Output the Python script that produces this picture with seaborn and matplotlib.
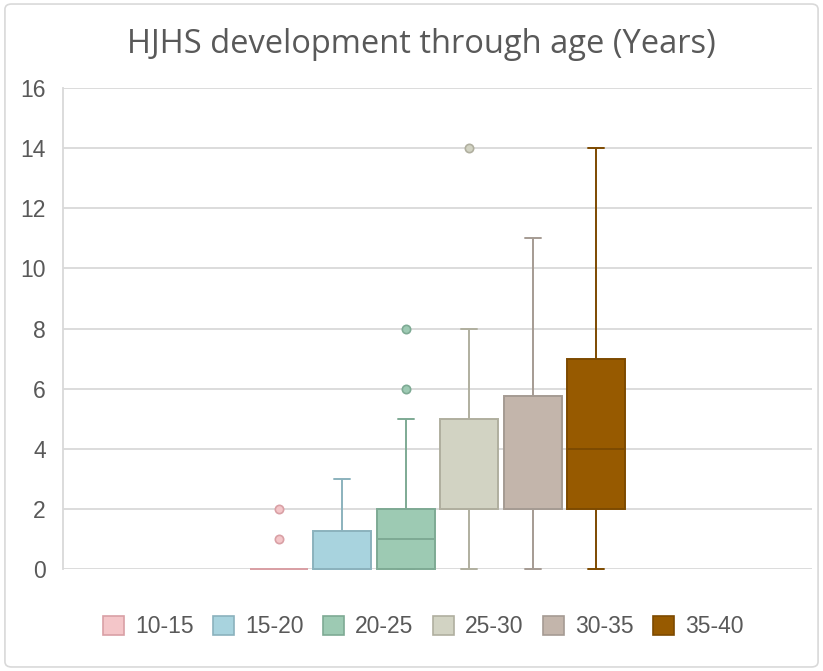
import numpy as np
import pandas as pd
import seaborn as sns
import matplotlib.pyplot as plt
from matplotlib.patches import Patch, FancyBboxPatch

# HJHS scores per age group
age_groups = ["10-15", "15-20", "20-25", "25-30", "30-35", "35-40"]
scores_10_15 = [0, 0, 0, 0, 0, 0, 0, 0, 0, 0, 1, 2]
scores_15_20 = [0, 0, 0, 0, 0, 1, 2, 3]
scores_20_25 = [0, 0, 0, 0, 1, 1, 1, 2, 2, 2, 5, 6, 8]
scores_25_30 = [0, 1, 2, 2, 2, 2, 2, 3, 4, 5, 6, 8, 14]
scores_30_35 = [0, 1, 2, 2, 2, 2, 5, 6, 8, 11]
scores_35_40 = [0, 1, 2, 3, 4, 5, 7, 10, 14]

fill_colors = ["#F4C6C9", "#A8D3DE", "#9DCAB3", "#D2D3C3", "#C3B5AB", "#975A00"]
edge_colors = ["#D9A0A5", "#8BB2BD", "#7EAA94", "#B0AF9F", "#A59B93", "#7D4A00"]

all_scores = [scores_10_15, scores_15_20, scores_20_25,
              scores_25_30, scores_30_35, scores_35_40]
rows = []
for grp, vals in zip(age_groups, all_scores):
    for v in vals:
        rows.append({"cat": "all", "age": grp, "score": v})
df = pd.DataFrame(rows)

sns.set_style("white")
plt.rcParams["font.family"] = ["Liberation Sans", "DejaVu Sans"]

fig = plt.figure(figsize=(8.23, 6.71), dpi=100)
ax = fig.add_axes([63 / 823, 102 / 671, 749 / 823, 481 / 671])

sns.boxplot(data=df, x="cat", y="score", hue="age", hue_order=age_groups,
            palette=fill_colors, width=0.8, gap=0.09, linewidth=1.4,
            fliersize=6, whis=1.5, legend=False, ax=ax)

for cont, fc, ec in zip(ax.containers, fill_colors, edge_colors):
    for b in cont.boxes:
        b.set_facecolor(fc)
        b.set_edgecolor(ec)
        b.set_clip_on(False)
    for ln in list(cont.whiskers) + list(cont.caps) + list(cont.medians):
        ln.set_color(ec)
        ln.set_clip_on(False)
    for f in cont.fliers:
        f.set_marker("o")
        f.set_markerfacecolor(fc)
        f.set_markeredgecolor(ec)
        f.set_markeredgewidth(1.2)
        f.set_clip_on(False)

# shorten caps like Excel
for cont in ax.containers:
    for cap in cont.caps:
        xs = cap.get_xdata()
        mid = (xs[0] + xs[1]) / 2
        cap.set_xdata([mid - 0.017, mid + 0.017])

ax.set_xlim(-0.787, 0.787)
ax.set_ylim(0, 16)
ax.set_yticks(np.arange(0, 17, 2))
ax.set_xticks([])
ax.set_xlabel("")
ax.set_ylabel("")
ax.yaxis.grid(True, color="#D9D9D9", linewidth=1.3)
ax.set_axisbelow(True)
for s in ["top", "right", "bottom"]:
    ax.spines[s].set_visible(False)
ax.spines["left"].set_color("#D9D9D9")
ax.spines["left"].set_linewidth(1.3)
ax.tick_params(axis="y", length=0, pad=12.5, labelsize=16.5, labelcolor="#595959")

fig.suptitle("HJHS development through age (Years)", x=0.512, y=0.933, va="center",
             fontsize=23.5, color="#595959", family=["Open Sans", "DejaVu Sans"])

handles = [Patch(facecolor=fc, edgecolor=ec, linewidth=1.2)
           for fc, ec in zip(fill_colors, edge_colors)]
fig.legend(handles, age_groups, loc="center", bbox_to_anchor=(0.5146, 0.066),
           ncol=6, frameon=False, fontsize=16.5, labelcolor="#595959",
           handlelength=0.9, handleheight=0.9, handletextpad=0.5,
           columnspacing=0.85)

fig.patches.append(FancyBboxPatch((0.006, 0.006), 0.988, 0.988,
                                  boxstyle="round,pad=0,rounding_size=0.008",
                                  transform=fig.transFigure, fill=False,
                                  edgecolor="#D9D9D9", linewidth=1.2))

fig.savefig("out.png", dpi=100)
